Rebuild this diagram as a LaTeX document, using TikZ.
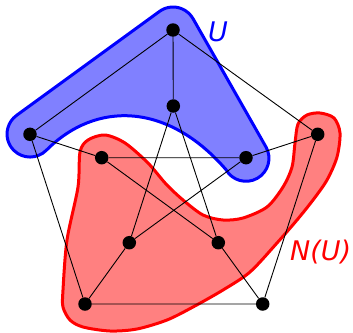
\documentclass[tikz,border=0pt]{standalone}
\usepackage{fontspec}
\setsansfont{DejaVu Sans}
\begin{document}
\begin{tikzpicture}[x=1pt,y=-1pt,
  vtx/.style={circle,fill=black,inner sep=0pt,minimum size=13.5pt},
  edge/.style={draw=black,line width=0.9pt},
  ublob/.style={draw=blue,fill=blue!50,line width=3pt,line join=round},
  nblob/.style={draw=red,fill=red!50,line width=3pt,line join=round},
  lbl/.style={inner sep=0pt,font=\sffamily\itshape\fontsize{27}{30}\selectfont}]
\useasboundingbox (0,0) rectangle (353,332);
% regions
\path[ublob] (16.5,115.4) -- (159.5,11.4) arc[start angle=-126, end angle=-29.4, radius=23]
  -- (266,147) arc[start angle=-29.4, end angle=150.6, radius=23]
  .. controls (167.9,102.6) and (96.3,100.3) .. (46.3,150.3)
  arc[start angle=45, end angle=234, radius=23] -- cycle;
\path[nblob] plot[smooth cycle, tension=0.5] coordinates {
  (105,135) (125,143) (148,163) (166,184) (183,200) (203,215) (223,220) (243,218)
  (267,207) (283,187) (292,167) (295,143) (298,124) (307,115) (320,113) (334,118)
  (340,133) (337,157) (327,180) (313,200) (297,220) (277,243) (250,272) (223,290)
  (193,307) (167,320) (137,329) (110,331) (83,327) (70,320) (63,307) (63,290)
  (67,240) (78,187) (80,152) (88,140)};
% vertices
\node[vtx] (o0) at (173,30) {};
\node[vtx] (o1) at (317.7,134.3) {};
\node[vtx] (o2) at (262.7,304) {};
\node[vtx] (o3) at (85,304) {};
\node[vtx] (o4) at (30,134.3) {};
\node[vtx] (i0) at (173.3,106) {};
\node[vtx] (i1) at (246,157.7) {};
\node[vtx] (i2) at (218.3,242.7) {};
\node[vtx] (i3) at (129.3,242.7) {};
\node[vtx] (i4) at (101.7,157.7) {};
% edges
\begin{scope}[on background layer/.style={}]
\draw[edge] (o0) -- (o1) -- (o2) -- (o3) -- (o4) -- (o0);
\draw[edge] (o0) -- (i0) (o1) -- (i1) (o2) -- (i2) (o3) -- (i3) (o4) -- (i4);
\draw[edge] (i0) -- (i2) -- (i4) -- (i1) -- (i3) -- (i0);
\end{scope}
% labels
\node[lbl,text=blue,anchor=base west] (ulab) at (208,41) {U};
\node[lbl,text=red,anchor=base west] (nlab) at (290,260) {N(U)};
\end{tikzpicture}
\end{document}
